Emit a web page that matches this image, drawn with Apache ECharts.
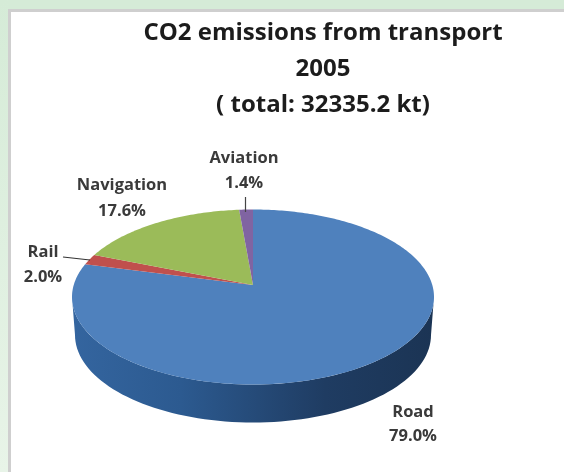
<!DOCTYPE html>
<html>
<head>
<meta charset="utf-8">
<style>
  html, body { margin: 0; padding: 0; background: #fff; }
  #chart { width: 564px; height: 472px; filter: blur(0.7px); }
</style>
</head>
<body>
<div id="chart"></div>
<script src="https://cdn.jsdelivr.net/npm/echarts@6/dist/echarts.min.js"></script>
<script>
// slices run clockwise from 12 o'clock
const categories = ["Road", "Rail", "Navigation", "Aviation"];
const shares = [79.0, 2.0, 17.6, 1.4];
const sliceColors = ["#4f81bd", "#c0504d", "#9bbb59", "#8064a2"];
const titleLines = ["CO2 emissions from transport", "2005", "( total: 32335.2 kt)"];

const cx = 253;
const cy = 297;
const rx = 181;
const ry = 87.5;
const depth = 38;
// apex sits above the ellipse middle (perspective of the original 3D pie)
const tilt = 0.137;

function project(angle) {
  const u = Math.sin(angle);
  const v = Math.cos(angle);
  const d = 1 + tilt * v;
  return [
    cx + (rx * u * Math.sqrt(1 - tilt * tilt)) / d,
    cy - (ry * (v + tilt)) / d,
  ];
}

function slicePoints(from, to) {
  const pts = [[cx, cy - ry * tilt]];
  const steps = Math.max(4, Math.ceil((to - from) * 60));
  for (let i = 0; i <= steps; i++) {
    pts.push(project(from + ((to - from) * i) / steps));
  }
  return pts;
}

// front wall of the pie: top rim from right to left, bottom rim back
function wallPoints() {
  const pts = [];
  for (let i = 0; i <= 80; i++) {
    const a = (Math.PI * i) / 80;
    pts.push([cx + rx * Math.cos(a), cy + ry * Math.sin(a)]);
  }
  for (let i = 80; i >= 0; i--) {
    const a = (Math.PI * i) / 80;
    pts.push([cx + (rx - 3) * Math.cos(a), cy + depth + ry * Math.sin(a)]);
  }
  return pts;
}

// label positions: [x, y of name line, y of value line]
const labelPos = {
  Road: [413, 412, 436],
  Rail: [43, 252, 277],
  Navigation: [122, 185, 211],
  Aviation: [244, 158, 183],
};

function renderSlice(params, api) {
  const i = params.dataIndex;
  const total = shares.reduce((a, b) => a + b, 0);
  const before = shares.slice(0, i).reduce((a, b) => a + b, 0);
  const from = (before / total) * Math.PI * 2;
  const to = ((before + api.value(0)) / total) * Math.PI * 2;
  const pos = labelPos[categories[i]];
  const textStyle = {
    font: "bold 16.5px 'Open Sans', sans-serif",
    fill: "#3a3a3a",
    align: "center",
    verticalAlign: "middle",
  };
  return {
    type: "group",
    children: [
      {
        type: "polygon",
        shape: { points: slicePoints(from, to) },
        style: { fill: sliceColors[i] },
      },
      { type: "text", style: { ...textStyle, x: pos[0], y: pos[1], text: categories[i] } },
      { type: "text", style: { ...textStyle, x: pos[0], y: pos[2], text: api.value(0).toFixed(1) + "%" } },
    ],
  };
}

const chart = echarts.init(document.getElementById("chart"));
chart.setOption({
  animation: false,
  backgroundColor: "#ffffff",
  graphic: [
    // sheet behind the chart
    { type: "rect", z: -10, shape: { x: 0, y: 0, width: 564, height: 11 }, style: { fill: "#d5ebd7" } },
    { type: "rect", z: -10, shape: { x: 0, y: 0, width: 8, height: 472 },
      style: { fill: new echarts.graphic.LinearGradient(0, 0, 0, 1, [
        { offset: 0, color: "#d5ebd7" },
        { offset: 1, color: "#e8f4e8" },
      ]) } },
    { type: "rect", z: -9, shape: { x: 8, y: 9, width: 556, height: 3 }, style: { fill: "#cfcfcf" } },
    { type: "rect", z: -9, shape: { x: 8, y: 9, width: 3, height: 463 }, style: { fill: "#cfcfcf" } },
    // pie wall
    {
      type: "polygon",
      z: 1,
      shape: { points: wallPoints() },
      style: {
        fill: new echarts.graphic.LinearGradient(0, 0, 1, 0, [
          { offset: 0, color: "#34659f" },
          { offset: 0.3, color: "#2c5a90" },
          { offset: 0.7, color: "#1f3c62" },
          { offset: 1, color: "#1b3454" },
        ]),
      },
    },
    // leader lines
    { type: "line", z: 10, shape: { x1: 63, y1: 257, x2: 90, y2: 260 }, style: { stroke: "#333", lineWidth: 1.2 } },
    { type: "line", z: 10, shape: { x1: 245.5, y1: 197, x2: 245.5, y2: 212 }, style: { stroke: "#444", lineWidth: 1.2 } },
  ],
  title: {
    text: titleLines.join("\n"),
    left: 318,
    top: 10,
    textAlign: "center",
    textStyle: {
      fontFamily: "'Open Sans', sans-serif",
      fontSize: 24,
      fontWeight: "bold",
      color: "#1c1c1c",
      lineHeight: 36,
    },
  },
  series: [
    {
      type: "custom",
      coordinateSystem: "none",
      z: 2,
      silent: true,
      data: shares.map((v) => [v]),
      renderItem: renderSlice,
    },
  ],
});
</script>
</body>
</html>
